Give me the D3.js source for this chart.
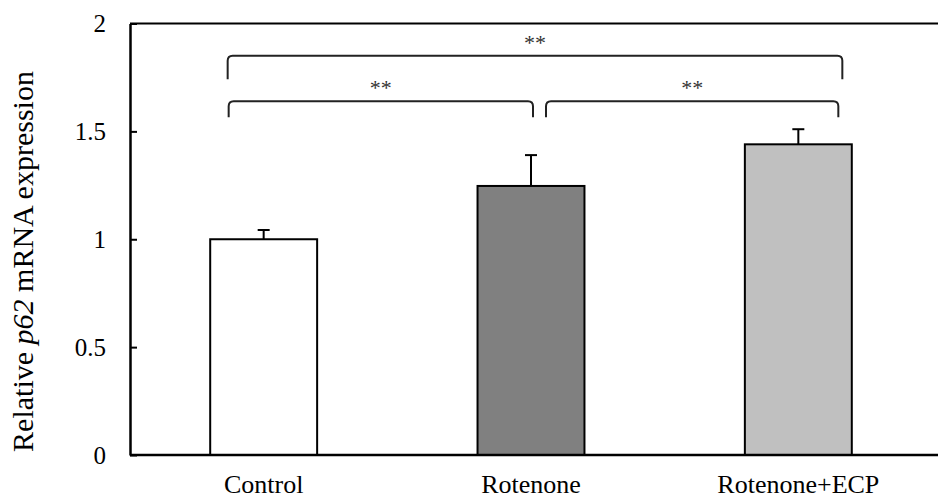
<!DOCTYPE html>
<html>
<head>
<meta charset="utf-8">
<script src="https://cdn.jsdelivr.net/npm/d3@7"></script>
<style>
  html, body { margin: 0; padding: 0; background: #fff; }
  svg { display: block; }
  text { font-family: "Liberation Serif", "Times New Roman", serif; fill: #000; }
</style>
</head>
<body>
<svg id="chart" width="938" height="498"></svg>
<script>
// Relative p62 mRNA expression per treatment group (mean ± SD)
const categories = ["Control", "Rotenone", "Rotenone+ECP"];
const means = [1.0, 1.247, 1.44];
const errors = [0.043, 0.143, 0.07];
const barColors = ["#ffffff", "#808080", "#c0c0c0"];
const yTicks = [0, 0.5, 1, 1.5, 2];
const yTickLabels = ["0", "0.5", "1", "1.5", "2"];

// Pairwise comparisons and their significance labels
const comparisons = [
  { from: 0, to: 1, label: "**" },
  { from: 1, to: 2, label: "**" },
  { from: 0, to: 2, label: "**" }
];

(function draw() {
  const svg = d3.select("#chart");
  const mLeft = 130, mRight = 938, mTop = 23.5, mBottom = 455;
  const plotRight = 932;

  const x = d3.scaleBand()
    .domain(categories)
    .range([mLeft, plotRight])
    .paddingInner(0.6)
    .paddingOuter(0.3);

  const y = d3.scaleLinear().domain([0, 2]).range([mBottom, mTop]);
  const cx = i => x(categories[i]) + x.bandwidth() / 2;

  // top frame line
  svg.append("line")
    .attr("x1", mLeft).attr("x2", mRight)
    .attr("y1", y(2)).attr("y2", y(2))
    .attr("stroke", "#000").attr("stroke-width", 2.2);

  // bars
  svg.selectAll("rect.bar")
    .data(categories)
    .enter().append("rect")
    .attr("class", "bar")
    .attr("x", d => x(d))
    .attr("width", x.bandwidth())
    .attr("y", (d, i) => y(means[i]))
    .attr("height", (d, i) => y(0) - y(means[i]))
    .attr("fill", (d, i) => barColors[i])
    .attr("stroke", "#000")
    .attr("stroke-width", 2);

  // error bars (upper only)
  const capHalf = 6;
  categories.forEach((c, i) => {
    const xc = cx(i);
    const yTop = y(means[i] + errors[i]);
    svg.append("line")
      .attr("x1", xc).attr("x2", xc)
      .attr("y1", y(means[i])).attr("y2", yTop)
      .attr("stroke", "#000").attr("stroke-width", 2);
    svg.append("line")
      .attr("x1", xc - capHalf).attr("x2", xc + capHalf)
      .attr("y1", yTop).attr("y2", yTop)
      .attr("stroke", "#000").attr("stroke-width", 2);
  });

  // y axis with inward ticks
  const yAxis = d3.axisLeft(y)
    .tickValues(yTicks)
    .tickFormat((d, i) => yTickLabels[i])
    .tickSizeInner(-7)
    .tickSizeOuter(0)
    .tickPadding(24);
  const yg = svg.append("g").attr("transform", `translate(${mLeft},0)`).call(yAxis);
  yg.select(".domain").attr("stroke", "#000").attr("stroke-width", 2.5);
  yg.selectAll(".tick line").attr("stroke", "#000").attr("stroke-width", 2);
  yg.selectAll(".tick text")
    .attr("font-family", "Liberation Serif, Times New Roman, serif")
    .attr("font-size", 25).attr("fill", "#000");

  // x axis baseline
  const xAxis = d3.axisBottom(x).tickSize(0).tickPadding(20);
  const xg = svg.append("g").attr("transform", `translate(0,${mBottom})`).call(xAxis);
  xg.select(".domain").attr("d", `M${mLeft},0H${mRight}`).attr("stroke", "#000").attr("stroke-width", 2.5);
  xg.selectAll(".tick text")
    .attr("font-family", "Liberation Serif, Times New Roman, serif")
    .attr("font-size", 26).attr("fill", "#000");

  // y axis title
  const title = svg.append("text")
    .attr("transform", `translate(33,261.5) rotate(-90)`)
    .attr("text-anchor", "middle")
    .attr("font-size", 30);
  title.append("tspan").text("Relative ");
  title.append("tspan").attr("font-style", "italic").text("p62");
  title.append("tspan").text(" mRNA expression");

  // bracket geometry: horizontal level, leg drop (in value units), end offsets from bar centres (px)
  const bracketLayout = [
    { level: 1.64, drop: 0.075, dx1: -35, dx2: 2 },
    { level: 1.64, drop: 0.075, dx1: 15, dx2: 40 },
    { level: 1.85, drop: 0.108, dx1: -36, dx2: 44 }
  ];

  const r = 5;
  comparisons.forEach((b, k) => {
    const L = bracketLayout[k];
    const x1 = cx(b.from) + L.dx1;
    const x2 = cx(b.to) + L.dx2;
    const yl = y(L.level);
    const yd = y(L.level - L.drop);
    const p = d3.path();
    p.moveTo(x1, yd);
    p.lineTo(x1, yl + r);
    p.quadraticCurveTo(x1, yl, x1 + r, yl);
    p.lineTo(x2 - r, yl);
    p.quadraticCurveTo(x2, yl, x2, yl + r);
    p.lineTo(x2, yd);
    svg.append("path")
      .attr("d", p.toString())
      .attr("fill", "none")
      .attr("stroke", "#222")
      .attr("stroke-width", 2);
    svg.append("text")
      .attr("x", (x1 + x2) / 2)
      .attr("y", yl - 6)
      .attr("text-anchor", "middle")
      .attr("font-size", 22)
      .style("fill", "#333")
      .text(b.label);
  });
})();
</script>
</body>
</html>
